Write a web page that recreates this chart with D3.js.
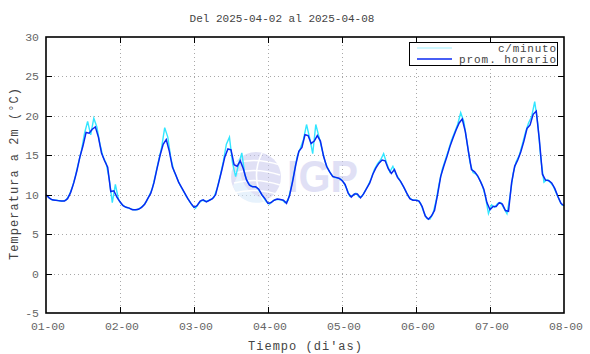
<!DOCTYPE html>
<html lang="es">
<head>
    <meta charset="utf-8">
    <title>Temperatura a 2m</title>
    <script type="text/javascript" src="https://d3js.org/d3.v7.min.js"></script>
    <style>
        body { margin: 0; background: #fff; }
        text { font-family: "Liberation Mono", "DejaVu Sans Mono", monospace; font-size: 11px; }
    </style>
</head>
<body>
    <script type="text/javascript">

        // Chart data
        var titleText = "Del 2025-04-02 al 2025-04-08";
        var xLabel = "Tiempo (di'as)";
        var yLabel = "Temperatura a 2m (\u00b0C)";
        var dayTicks = ["01-00", "02-00", "03-00", "04-00", "05-00", "06-00", "07-00", "08-00"];
        var tempTicks = [-5, 0, 5, 10, 15, 20, 25, 30];
        var seriesNames = ["c/minuto", "prom. horario"];

        // hourly means, hour 0 .. 168
        var hourly = [
            10.0, 9.6, 9.35, 9.3, 9.25, 9.2, 9.2, 9.5, 10.3, 11.5, 13.0, 14.8,
            16.2, 17.9, 17.8, 18.3, 18.6, 17.3, 15.3, 14.3, 13.5, 10.4, 10.5, 9.7,
            9.1, 8.6, 8.4, 8.3, 8.1, 8.1, 8.15, 8.4, 8.8, 9.5, 10.2, 11.5,
            13.3, 15.0, 16.4, 17.0, 15.5, 13.5, 12.6, 11.6, 10.9, 10.2, 9.5, 8.9,
            8.4, 8.6, 9.2, 9.35, 9.1, 9.3, 9.5, 10.0, 11.5, 13.1, 14.8, 15.8,
            15.7, 13.8, 13.6, 14.3, 13.3, 11.9, 11.2, 11.0, 11.0, 10.7, 10.0, 9.5,
            8.9, 9.0, 9.3, 9.45, 9.4, 9.3, 8.9, 9.9, 11.7, 13.8, 15.5, 16.0,
            17.6, 17.5, 16.5, 16.8, 17.5, 16.8, 14.9, 13.6, 12.9, 12.3, 12.2, 12.1,
            11.8, 11.3, 10.2, 9.7, 10.1, 10.1, 9.6, 10.1, 10.8, 11.5, 12.6, 13.4,
            14.0, 14.4, 14.3, 13.3, 12.7, 13.2, 12.2, 11.7, 11.0, 10.2, 9.5, 9.3,
            9.3, 9.2, 8.5, 7.3, 6.9, 7.3, 8.0, 10.0, 12.3, 13.6, 14.8, 16.1,
            17.2, 18.2, 19.1, 19.6, 18.0, 15.5, 13.2, 12.9, 12.4, 11.6, 10.7, 9.0,
            8.1, 8.5, 8.5, 9.0, 8.8, 8.0, 7.9, 11.5, 13.6, 14.4, 15.45, 16.8,
            18.4, 18.85, 20.2, 20.6, 17.0, 12.6, 11.85, 11.8, 11.5, 10.8, 9.8, 8.9,
            8.6
        ];

        // per-minute readings, sampled at half past each hour (0.5 .. 167.5)
        var minute = [
            9.8, 9.45, 9.3, 9.3, 9.2, 9.2, 9.3, 9.9, 10.9, 12.3, 14.0, 15.6,
            17.8, 19.3, 17.6, 19.7, 18.6, 16.4, 14.8, 14.0, 12.0, 9.0, 11.3, 9.4,
            8.8, 8.5, 8.35, 8.2, 8.1, 8.1, 8.3, 8.6, 9.1, 9.9, 10.8, 12.5,
            14.3, 16.0, 18.5, 17.3, 14.6, 13.0, 12.1, 11.2, 10.5, 9.8, 9.2, 8.6,
            8.3, 8.9, 9.3, 9.2, 9.2, 9.4, 9.7, 10.8, 12.4, 14.2, 16.4, 17.3,
            14.0, 12.3, 13.9, 15.3, 12.5, 11.5, 11.1, 11.0, 10.9, 10.3, 9.7, 9.1,
            8.8, 9.2, 9.4, 9.4, 9.35, 9.0, 9.3, 10.9, 12.9, 14.9, 15.9, 17.0,
            18.9, 17.2, 15.2, 18.9, 17.4, 15.8, 14.2, 13.2, 12.6, 12.2, 12.1, 12.0,
            11.6, 10.8, 9.8, 9.9, 10.2, 9.7, 9.8, 10.5, 11.2, 12.1, 13.2, 13.9,
            14.4, 15.2, 14.0, 12.9, 13.6, 12.6, 12.0, 11.3, 10.6, 9.8, 9.4, 9.3,
            9.3, 8.9, 7.8, 7.0, 6.9, 7.6, 9.2, 11.4, 13.2, 14.4, 15.6, 16.9,
            17.9, 18.9, 20.4, 19.3, 16.8, 14.1, 12.8, 12.6, 12.0, 11.2, 9.8, 7.6,
            8.7, 8.4, 8.9, 9.0, 8.3, 7.6, 9.8, 12.7, 14.2, 15.0, 16.4, 17.9,
            19.1, 19.9, 21.8, 19.0, 14.5, 11.6, 11.9, 11.6, 11.1, 10.2, 9.3, 8.6
        ];

        var width = 590, height = 354;
        var plotLeft = 46, plotRight = 564, plotTop = 37, plotBottom = 313;

        var svg = d3.select("body").append("svg")
            .attr("width", width)
            .attr("height", height);

        var x = d3.scaleLinear().domain([0, 168]).range([plotLeft, plotRight]);
        var y = d3.scaleLinear().domain([-5, 30]).range([plotBottom, plotTop]);
        var dayPos = dayTicks.map(function(d, i) { return i * 24; });

        // grid
        var grid = svg.append("g")
            .attr("stroke", "#a8a8a8")
            .attr("stroke-width", 1)
            .attr("stroke-dasharray", "1,3");
        grid.selectAll("line.gx")
            .data(dayPos.slice(1, -1))
            .enter().append("line")
            .attr("x1", function(d) { return Math.round(x(d)) + 0.5; })
            .attr("x2", function(d) { return Math.round(x(d)) + 0.5; })
            .attr("y1", plotTop).attr("y2", plotBottom);
        grid.selectAll("line.gy")
            .data(tempTicks.slice(1, -1))
            .enter().append("line")
            .attr("y1", function(d) { return Math.round(y(d)) + 0.5; })
            .attr("y2", function(d) { return Math.round(y(d)) + 0.5; })
            .attr("x1", plotLeft).attr("x2", plotRight);

        // IGP watermark
        var logo = svg.append("g").attr("opacity", 0.55);
        logo.append("circle").attr("cx", 256).attr("cy", 177).attr("r", 25).attr("fill", "#c8c8ee");
        logo.append("path")
            .attr("d", "M233,186 A25,25 0 0 0 270,199 A30,30 0 0 1 240,170 Z")
            .attr("fill", "#d4e8fb");
        [-14, -4, 6, 16].forEach(function(s) {
            logo.append("path")
                .attr("d", "M234," + (177 + s) + " Q256," + (177 + s - 6) + " 280," + (177 + s + 2))
                .attr("stroke", "#fff").attr("stroke-width", 1.6).attr("fill", "none");
        });
        logo.append("path")
            .attr("d", "M262,153 Q250,177 264,201")
            .attr("stroke", "#fff").attr("stroke-width", 1.6).attr("fill", "none");
        logo.append("text")
            .attr("x", 287).attr("y", 192)
            .attr("textLength", 71)
            .attr("lengthAdjust", "spacingAndGlyphs")
            .style("font-family", "'Liberation Sans', Arial, sans-serif")
            .style("font-weight", "bold")
            .style("font-size", "44px")
            .attr("fill", "#c8c8ee")
            .text("IGP");

        // series
        var minuteLine = d3.line()
            .x(function(d, i) { return x(i + 0.5); })
            .y(function(d) { return y(d); });
        var hourLine = d3.line()
            .x(function(d, i) { return x(i); })
            .y(function(d) { return y(d); });

        svg.append("path")
            .datum(minute)
            .attr("d", minuteLine)
            .attr("fill", "none")
            .attr("stroke", "#33e6ff")
            .attr("stroke-width", 1.4);

        svg.append("path")
            .datum(hourly)
            .attr("d", hourLine)
            .attr("fill", "none")
            .attr("stroke", "#0a28f0")
            .attr("stroke-width", 1.5);

        // ticks (inward, all four sides)
        var ticks = svg.append("g").attr("stroke", "#000").attr("stroke-width", 1);
        dayPos.slice(1, -1).forEach(function(d) {
            var px = Math.round(x(d)) + 0.5;
            ticks.append("line").attr("x1", px).attr("x2", px).attr("y1", plotBottom).attr("y2", plotBottom - 6);
            ticks.append("line").attr("x1", px).attr("x2", px).attr("y1", plotTop).attr("y2", plotTop + 6);
        });
        tempTicks.slice(1, -1).forEach(function(d) {
            var py = Math.round(y(d)) + 0.5;
            ticks.append("line").attr("x1", plotLeft).attr("x2", plotLeft + 6).attr("y1", py).attr("y2", py);
            ticks.append("line").attr("x1", plotRight).attr("x2", plotRight - 6).attr("y1", py).attr("y2", py);
        });

        // frame
        svg.append("rect")
            .attr("x", plotLeft).attr("y", plotTop)
            .attr("width", plotRight - plotLeft).attr("height", plotBottom - plotTop)
            .attr("fill", "none")
            .attr("stroke", "#000")
            .attr("stroke-width", 1.6);

        // tick labels
        svg.selectAll("text.xt")
            .data(dayTicks)
            .enter().append("text")
            .attr("x", function(d, i) { return x(dayPos[i]) + 2; })
            .attr("y", 330)
            .attr("text-anchor", "middle")
            .attr("fill", "#666")
            .style("font-size", "11.5px")
            .attr("textLength", 34)
            .text(function(d) { return d; });

        svg.selectAll("text.yt")
            .data(tempTicks)
            .enter().append("text")
            .attr("x", 39)
            .attr("y", function(d) { return y(d) + 4; })
            .attr("text-anchor", "end")
            .attr("fill", "#666")
            .style("font-size", "11.5px")
            .text(function(d) { return d; });

        // titles
        svg.append("text")
            .attr("x", 282).attr("y", 22)
            .attr("text-anchor", "middle")
            .attr("fill", "#444")
            .text(titleText);

        svg.append("text")
            .attr("x", 305).attr("y", 350)
            .attr("text-anchor", "middle")
            .attr("fill", "#444")
            .style("font-size", "12px")
            .attr("textLength", 114)
            .text(xLabel);

        svg.append("text")
            .attr("transform", "translate(18,174) rotate(-90)")
            .attr("text-anchor", "middle")
            .attr("fill", "#444")
            .style("font-size", "12px")
            .attr("textLength", 172)
            .text(yLabel);

        // legend
        var legend = svg.append("g");
        legend.append("rect")
            .attr("x", 409.5).attr("y", 42.5)
            .attr("width", 148).attr("height", 23)
            .attr("fill", "#fff")
            .attr("stroke", "#000")
            .attr("stroke-width", 1);
        var legendColors = ["#9ff0ff", "#0a28f0"];
        seriesNames.forEach(function(name, i) {
            var ly = 48 + i * 11;
            legend.append("line")
                .attr("x1", 417).attr("x2", 452)
                .attr("y1", ly).attr("y2", ly)
                .attr("stroke", legendColors[i])
                .attr("stroke-width", i === 0 ? 1 : 1.5);
            legend.append("text")
                .attr("x", 556).attr("y", ly + 3.5)
                .attr("text-anchor", "end")
                .attr("fill", "#444")
                .style("font-size", "11px")
                .attr("textLength", i === 0 ? 58 : 97)
                .text(name);
        });

    </script>
</body>
</html>
